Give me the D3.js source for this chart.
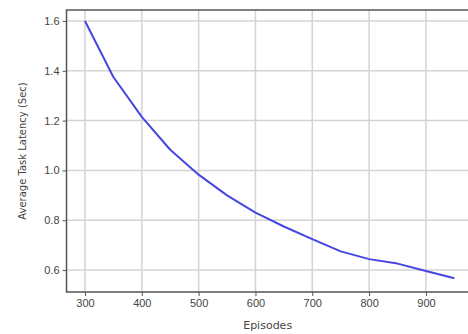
<!DOCTYPE html>
<html>
<head>
<meta charset="utf-8">
<script src="https://cdn.jsdelivr.net/npm/d3@7"></script>
<style>
  body { margin: 0; background: #fff; }
  svg { display: block; font-family: "DejaVu Sans", sans-serif; }
</style>
</head>
<body>
<div id="chart"></div>
<script>
const episodes = [300, 350, 400, 450, 500, 550, 600, 650, 700, 750, 800, 850, 900, 950];
const latency = [1.60, 1.375, 1.215, 1.083, 0.983, 0.90, 0.831, 0.775, 0.724, 0.675, 0.644, 0.626, 0.596, 0.567];
const xTicks = [300, 400, 500, 600, 700, 800, 900];
const yTicks = [0.6, 0.8, 1.0, 1.2, 1.4, 1.6];

const width = 468, height = 334;
const svg = d3.select('#chart').append('svg')
  .attr('width', width)
  .attr('height', height);

const padLeft = 66.5, padTop = 10, padBottom = 292;
const x = d3.scaleLinear().domain([267.5, 982.5]).range([padLeft, padLeft + 715 * 0.5683]);
const y = d3.scaleLinear().domain([0.512, 1.644]).range([padBottom, padTop]);

// grid
const grid = svg.append('g').attr('stroke', '#d4d4d4').attr('stroke-width', 1.5);
grid.selectAll('.gx').data(xTicks).enter().append('line')
  .attr('x1', d => x(d)).attr('x2', d => x(d))
  .attr('y1', padTop).attr('y2', padBottom);
grid.selectAll('.gy').data(yTicks).enter().append('line')
  .attr('x1', padLeft).attr('x2', x.range()[1])
  .attr('y1', d => y(d)).attr('y2', d => y(d));

// line
const line = d3.line().x((d, i) => x(episodes[i])).y(d => y(d));
svg.append('path')
  .datum(latency)
  .attr('d', line)
  .attr('fill', 'none')
  .attr('stroke', '#4646e0')
  .attr('stroke-width', 2)
  .attr('stroke-linejoin', 'round');

// axes
const xAxis = svg.append('g')
  .attr('transform', `translate(0,${padBottom})`)
  .call(d3.axisBottom(x).tickValues(xTicks).tickSize(4).tickPadding(3).tickFormat(d3.format('d')));
const yAxis = svg.append('g')
  .attr('transform', `translate(${padLeft},0)`)
  .call(d3.axisLeft(y).tickValues(yTicks).tickSize(4).tickPadding(3).tickFormat(d3.format('.1f')));

[xAxis, yAxis].forEach(a => {
  a.select('.domain').remove();
  a.selectAll('.tick line').attr('stroke', '#555');
  a.selectAll('.tick text').attr('fill', '#444').style('font-size', '11px');
});

// frame
svg.append('rect')
  .attr('x', padLeft).attr('y', padTop)
  .attr('width', x.range()[1] - padLeft).attr('height', padBottom - padTop)
  .attr('fill', 'none')
  .attr('stroke', '#555')
  .attr('stroke-width', 1.5);

svg.append('text')
  .attr('x', (padLeft + x.range()[1]) / 2 - 2)
  .attr('y', 329)
  .attr('text-anchor', 'middle')
  .attr('fill', '#444')
  .style('font-size', '11px')
  .text('Episodes');

svg.append('text')
  .attr('transform', `translate(26,${(padTop + padBottom) / 2}) rotate(-90)`)
  .attr('text-anchor', 'middle')
  .attr('fill', '#444')
  .style('font-size', '10px')
  .text('Average Task Latency (Sec)');
</script>
</body>
</html>
